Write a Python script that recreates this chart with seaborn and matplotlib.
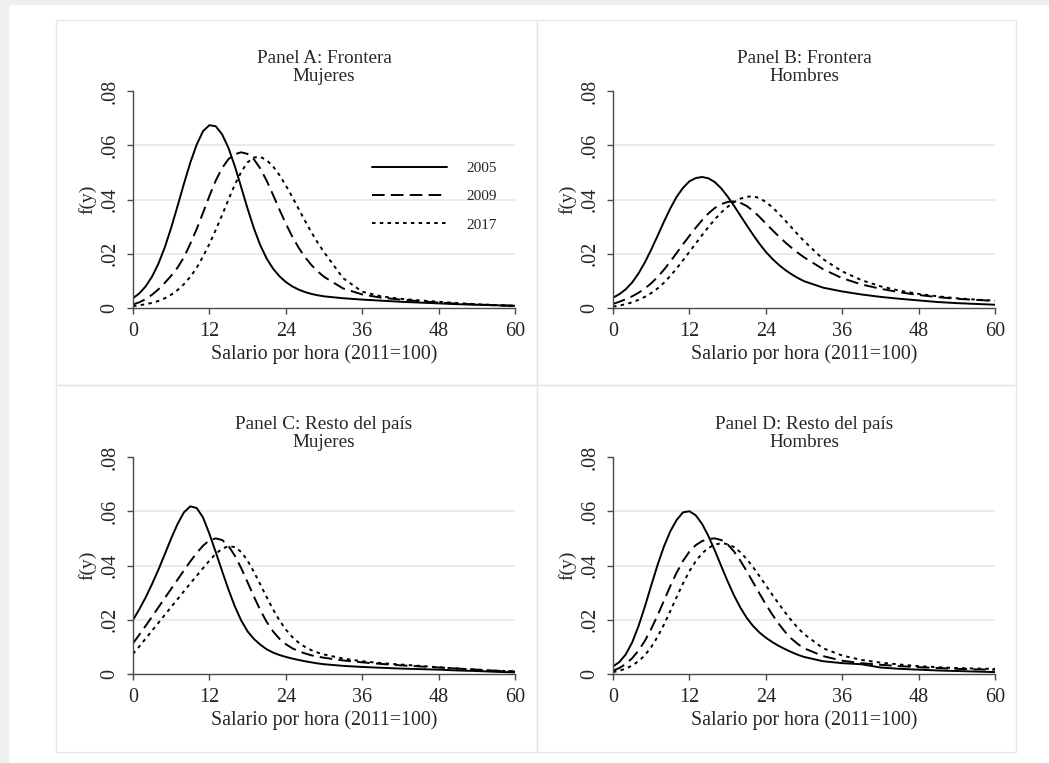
import numpy as np
import pandas as pd
import matplotlib
matplotlib.use("Agg")
import matplotlib.pyplot as plt
import seaborn as sns
from matplotlib.patches import Rectangle

# ── Datos (densidades) ────────────────────────────────────────────────────────

X_GRID = list(range(0, 31)) + [33, 36, 39, 42, 45, 48, 51, 54, 57, 60]
YEARS = ["2005", "2009", "2017"]

# Panel A: Frontera, Mujeres
A_2005 = [.0036, .0054, .0080, .0116, .0164, .0224, .0296, .0376, .0458, .0536,
          .0602, .0652, .0674, .0670, .0640, .0590, .0522, .0445, .0366, .0293,
          .0231, .0182, .0145, .0117, .0096, .0080, .0068, .0059, .0052, .0047,
          .0043, .0036, .0031, .0027, .0023, .0020, .0017, .0014, .0012, .0010, .0008]
A_2009 = [.0013, .0021, .0033, .0049, .0069, .0093, .0119, .0149, .0187, .0237,
          .0291, .0351, .0413, .0470, .0516, .0549, .0567, .0574, .0568, .0548,
          .0514, .0469, .0417, .0363, .0311, .0264, .0223, .0188, .0159, .0135,
          .0115, .0072, .0050, .0038, .0031, .0025, .0020, .0016, .0013, .0010, .0008]
A_2017 = [.0007, .0010, .0014, .0019, .0026, .0036, .0049, .0066, .0088, .0115,
          .0148, .0190, .0236, .0288, .0343, .0400, .0455, .0502, .0537, .0555,
          .0557, .0545, .0522, .0490, .0452, .0410, .0366, .0322, .0280, .0241,
          .0206, .0110, .0060, .0043, .0034, .0028, .0023, .0018, .0014, .0011, .0008]

# Panel B: Frontera, Hombres
B_2005 = [.0038, .0051, .0069, .0094, .0127, .0168, .0215, .0266, .0318, .0367,
          .0410, .0443, .0467, .0479, .0483, .0478, .0464, .0441, .0411, .0377,
          .0341, .0305, .0270, .0237, .0207, .0182, .0160, .0141, .0125, .0111,
          .0099, .0075, .0061, .0050, .0041, .0034, .0028, .0022, .0018, .0015, .0012]
B_2009 = [.0015, .0023, .0032, .0043, .0056, .0072, .0091, .0114, .0141, .0171,
          .0203, .0235, .0266, .0296, .0324, .0349, .0369, .0383, .0391, .0393,
          .0388, .0376, .0358, .0336, .0312, .0288, .0265, .0243, .0223, .0204,
          .0187, .0143, .0110, .0087, .0071, .0058, .0048, .0040, .0034, .0030, .0026]
B_2017 = [.0005, .0009, .0014, .0021, .0030, .0041, .0055, .0072, .0093, .0118,
          .0146, .0176, .0207, .0238, .0269, .0299, .0327, .0352, .0373, .0390,
          .0403, .0410, .0412, .0405, .0391, .0372, .0349, .0324, .0298, .0272,
          .0247, .0180, .0135, .0103, .0080, .0064, .0052, .0043, .0036, .0031, .0027]

# Panel C: Resto del país, Mujeres
C_2005 = [.0199, .0239, .0283, .0332, .0385, .0442, .0500, .0553, .0596, .0618,
          .0612, .0577, .0517, .0449, .0379, .0311, .0249, .0197, .0157, .0129,
          .0108, .0091, .0079, .0070, .0063, .0057, .0052, .0047, .0043, .0039,
          .0036, .0030, .0026, .0023, .0020, .0018, .0016, .0013, .0011, .0008, .0006]
C_2009 = [.0113, .0145, .0178, .0212, .0246, .0280, .0314, .0348, .0382, .0415,
          .0446, .0473, .0493, .0500, .0494, .0472, .0436, .0390, .0338, .0285,
          .0235, .0192, .0157, .0130, .0110, .0095, .0084, .0076, .0069, .0064,
          .0060, .0050, .0043, .0037, .0032, .0028, .0024, .0020, .0016, .0012, .0009]
C_2017 = [.0074, .0102, .0131, .0160, .0189, .0218, .0247, .0276, .0305, .0334,
          .0362, .0390, .0418, .0443, .0462, .0471, .0468, .0450, .0418, .0376,
          .0330, .0283, .0238, .0198, .0164, .0137, .0116, .0100, .0088, .0079,
          .0072, .0057, .0047, .0040, .0035, .0030, .0025, .0020, .0016, .0012, .0010]

# Panel D: Resto del país, Hombres
D_2005 = [.0028, .0044, .0072, .0116, .0176, .0248, .0326, .0402, .0470, .0526,
          .0568, .0596, .0600, .0585, .0553, .0508, .0455, .0398, .0342, .0290,
          .0245, .0207, .0177, .0153, .0134, .0118, .0104, .0092, .0081, .0071,
          .0063, .0047, .0040, .0036, .0024, .0019, .0016, .0013, .0011, .0009, .0007]
D_2009 = [.0012, .0022, .0037, .0058, .0086, .0122, .0166, .0216, .0270, .0324,
          .0374, .0417, .0451, .0475, .0490, .0498, .0500, .0494, .0478, .0452,
          .0418, .0379, .0338, .0297, .0257, .0220, .0186, .0156, .0131, .0111,
          .0095, .0066, .0049, .0040, .0034, .0029, .0025, .0022, .0019, .0017, .0016]
D_2017 = [.0007, .0012, .0020, .0031, .0047, .0069, .0099, .0137, .0182, .0232,
          .0284, .0334, .0379, .0416, .0445, .0465, .0477, .0482, .0479, .0468,
          .0449, .0424, .0394, .0361, .0327, .0293, .0260, .0228, .0198, .0171,
          .0147, .0095, .0068, .0052, .0042, .0035, .0029, .0025, .0022, .0020, .0019]

PANELES = ["A", "B", "C", "D"]
TITULOS = ["Panel A: Frontera\nMujeres", "Panel B: Frontera\nHombres",
           "Panel C: Resto del país\nMujeres", "Panel D: Resto del país\nHombres"]
SERIES = {
    "A": [A_2005, A_2009, A_2017],
    "B": [B_2005, B_2009, B_2017],
    "C": [C_2005, C_2009, C_2017],
    "D": [D_2005, D_2009, D_2017],
}

X_TICKS = [0, 12, 24, 36, 48, 60]
Y_TICKS = [0, .02, .04, .06, .08]
Y_TICK_LABELS = ["0", ".02", ".04", ".06", ".08"]
GRID_Y = [.02, .04, .06]
X_LABEL = "Salario por hora (2011=100)"
Y_LABEL = "f(y)"

# ── Tabla larga ───────────────────────────────────────────────────────────────

filas = []
for p in PANELES:
    for year, valores in zip(YEARS, SERIES[p]):
        assert len(valores) == len(X_GRID), (p, year, len(valores))
        for x, v in zip(X_GRID, valores):
            filas.append((p, year, x, v))
df = pd.DataFrame(filas, columns=["panel", "year", "salario", "densidad"])

# ── Figura ────────────────────────────────────────────────────────────────────

sns.set_theme(style="white")
plt.rcParams["font.family"] = ["Liberation Serif", "DejaVu Serif"]

W, H = 1049, 763
fig = plt.figure(figsize=(W / 100, H / 100), dpi=100)
fig.patch.set_facecolor("white")

# márgenes grises y cajas de cada panel (en píxeles)
gris = "#efefef"
fig.patches.append(Rectangle((0, 0), 8 / W, 1, transform=fig.transFigure,
                             color=gris, zorder=0))
fig.patches.append(Rectangle((0, 1 - 4 / H), 1, 4 / H, transform=fig.transFigure,
                             color=gris, zorder=0))
for (x0, x1) in [(56, 537), (537, 1016)]:
    for (y0, y1) in [(20, 385), (385, 752)]:
        fig.patches.append(Rectangle((x0 / W, 1 - y1 / H), (x1 - x0) / W, (y1 - y0) / H,
                                     transform=fig.transFigure, fill=False,
                                     edgecolor="#e6e6e6", lw=1, zorder=0))

posiciones = {
    "A": [133 / W, 1 - 308 / H, 382 / W, 217 / H],
    "B": [613 / W, 1 - 308 / H, 382 / W, 217 / H],
    "C": [133 / W, 1 - 674 / H, 382 / W, 217 / H],
    "D": [613 / W, 1 - 674 / H, 382 / W, 217 / H],
}
DASHES = {"2005": "", "2009": (6.5, 3.2), "2017": (1.8, 2.2)}
eje_color = "#4a4a4a"

for p, titulo in zip(PANELES, TITULOS):
    ax = fig.add_axes(posiciones[p])
    sub = df[df["panel"] == p]
    sns.lineplot(data=sub, x="salario", y="densidad", style="year",
                 style_order=YEARS, dashes=DASHES, color="black", lw=1.4,
                 estimator=None, sort=False, legend=False, ax=ax)

    if p == "A":
        curvas = ax.lines[:3]
        ax.legend(curvas, YEARS, loc="upper left", bbox_to_anchor=(0.626, 0.675),
                  frameon=False, fontsize=11, handlelength=4.9, handletextpad=1.25,
                  labelspacing=0.95, borderaxespad=0, borderpad=0)

    for gy in GRID_Y:
        ax.axhline(gy, color="#e8e8e8", lw=1.2, zorder=0.5)

    ax.set_xlim(0, 60)
    ax.set_ylim(0, 0.08)
    ax.set_xticks(X_TICKS)
    ax.set_yticks(Y_TICKS)
    ax.set_yticklabels(Y_TICK_LABELS)
    ax.tick_params(axis="both", which="major", length=4.3, width=1, color=eje_color,
                   labelsize=14.5, bottom=True, left=True)
    ax.tick_params(axis="y", labelrotation=90, pad=5.5)
    ax.tick_params(axis="x", pad=6)
    for lab in ax.get_yticklabels():
        lab.set_va("center")

    for lado in ["top", "right"]:
        ax.spines[lado].set_visible(False)
    for lado in ["left", "bottom"]:
        ax.spines[lado].set_color(eje_color)
        ax.spines[lado].set_linewidth(1)

    ax.set_xlabel(X_LABEL, fontsize=14.3)
    ax.set_ylabel(Y_LABEL, fontsize=14)
    ax.xaxis.set_label_coords(0.5, -0.168)
    ax.yaxis.set_label_coords(-0.096, 0.5)
    ax.set_title(titulo, fontsize=13.8, linespacing=1.12, pad=7)
    ax.set_facecolor("none")

plt.savefig("out.png", dpi=100)
